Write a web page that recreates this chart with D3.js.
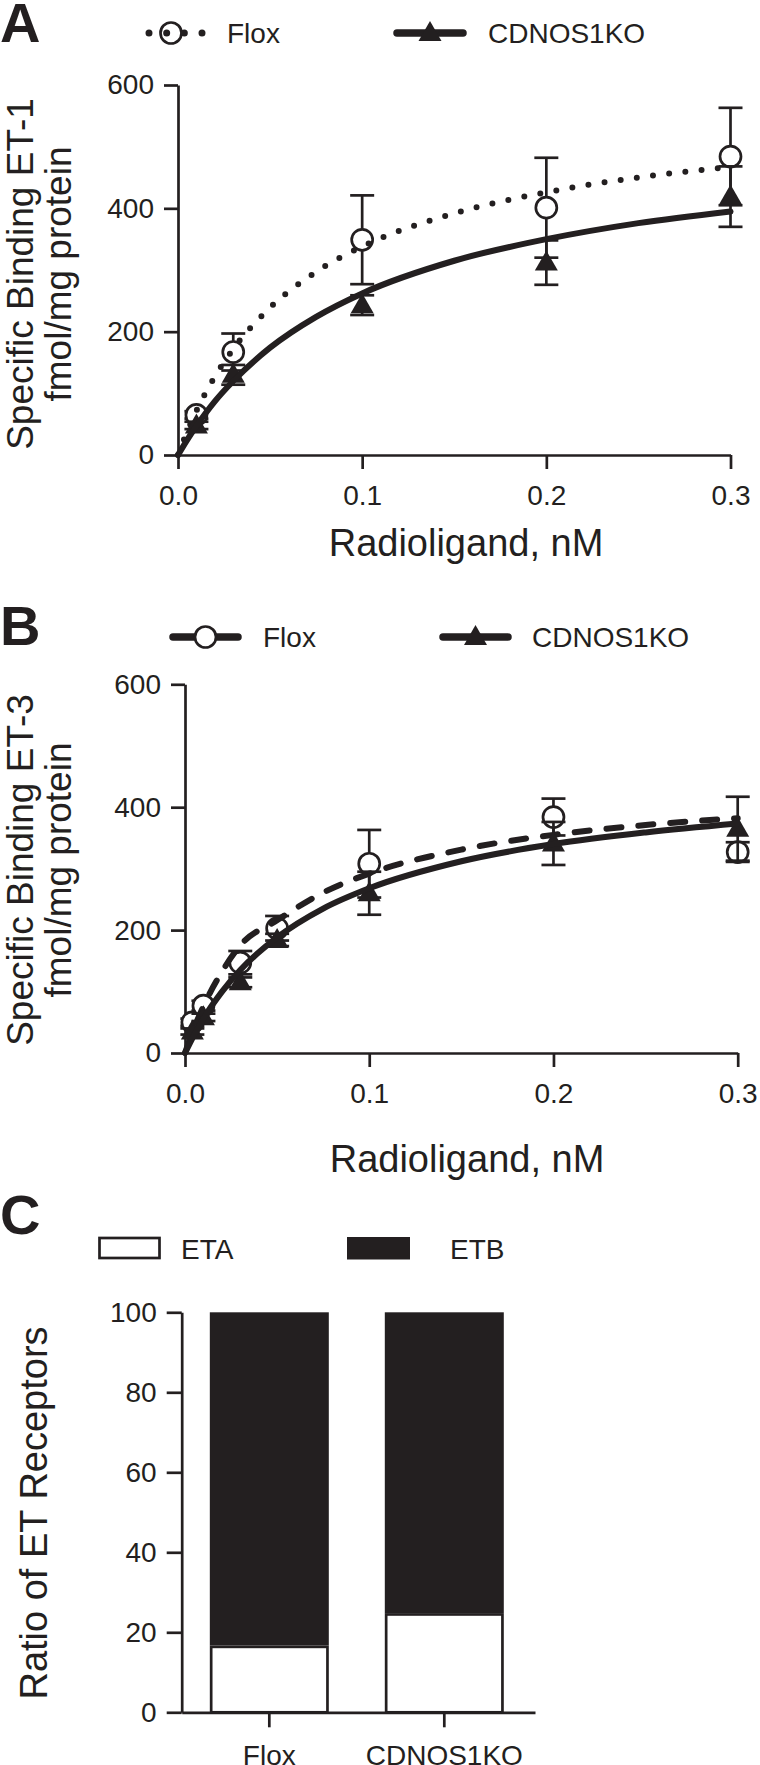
<!DOCTYPE html>
<html><head><meta charset="utf-8">
<script src="https://cdn.jsdelivr.net/npm/d3@7"></script>
<style>
body{margin:0;background:#fff}
svg text{font-family:"Liberation Sans",Arial,Helvetica,sans-serif;fill:#231f20}
</style>
</head><body>
<svg id="chart" width="760" height="1765"></svg>
<script>
// ---------- DATA ----------
const xTicks = [0, 0.1, 0.2, 0.3];
const yTicksBinding = [0, 200, 400, 600];
const seriesNames = ["Flox", "CDNOS1KO"];

// Panel A (ET-1)
const concA = [0.01, 0.03, 0.1, 0.2, 0.3];
const floxA = [65, 167, 349, 401, 484];
const floxA_sem = [6, 30, 72, 81, 79];
const koA = [48, 130, 243, 312, 419];
const koA_sem = [6, 16, 16, 36, 49];

// Panel B (ET-3)
const concB = [0.004, 0.01, 0.03, 0.05, 0.1, 0.2, 0.3];
const floxB = [50, 77, 147, 203, 308, 384, 327];
const floxB_sem = [6, 8, 19, 20, 55, 30, 16];
const koB = [35, 58, 115, 184, 260, 341, 365];
const koB_sem = [5, 6, 8, 10, 35, 35, 52];

// Fitted curves
const fitX = [0, 0.005, 0.01, 0.02, 0.03, 0.05, 0.075, 0.1, 0.15, 0.2, 0.25, 0.3];
const floxA_fit = [0, 38, 71.5, 127, 172, 239, 297, 338, 392, 426, 450, 467];
const koA_fit = [0, 24.7, 47, 87, 120, 174, 224, 262, 315, 350, 376, 395];
const floxB_fit = [0, 41, 76, 132, 175, 216, 261, 292, 331, 355, 371, 382];
const koB_fit = [0, 29.6, 56, 99.5, 135, 188, 235, 268, 312, 340, 359, 373.6];

// Panel C
const groups = ["Flox", "CDNOS1KO"];
const etaPct = [16.7, 24.8];
const etbPct = [83.3, 75.2];
const yTicksC = [0, 20, 40, 60, 80, 100];

// ---------- DRAWING ----------
const INK = "#231f20";
const FONT = '"Liberation Sans", Arial, Helvetica, sans-serif';
const svg = d3.select("#chart");

function styleAxis(g) {
  g.attr("font-size", 28).attr("font-family", FONT);
  g.select(".domain").attr("stroke", INK).attr("stroke-width", 2.7);
  g.selectAll(".tick line").attr("stroke", INK).attr("stroke-width", 2.7);
  g.selectAll(".tick text").attr("fill", INK);
}

const triPath = s => `M0,${-12*s} L${11.5*s},${8*s} L${-11.5*s},${8*s} Z`;

function drawMarker(g, type, cx, cy, s) {
  if (type === "circle") {
    g.append("circle").attr("cx", cx).attr("cy", cy).attr("r", 10.5 * s)
      .attr("fill", "#fff").attr("stroke", INK).attr("stroke-width", 2.7);
  } else {
    g.append("path").attr("d", triPath(s)).attr("transform", `translate(${cx},${cy})`)
      .attr("fill", INK);
  }
}

function bindingPanel(o) {
  const x = d3.scaleLinear().domain([0, 0.3]).range([o.left, o.right]);
  const y = d3.scaleLinear().domain([0, 600]).range([o.bottom, o.top]);
  const g = svg.append("g");

  g.append("g").attr("transform", `translate(0,${o.bottom})`)
    .call(d3.axisBottom(x).tickValues(xTicks).tickFormat(d3.format(".1f"))
      .tickSize(14).tickSizeOuter(0).tickPadding(16))
    .call(styleAxis);
  g.append("g").attr("transform", `translate(${o.left},0)`)
    .call(d3.axisLeft(y).tickValues(yTicksBinding).tickSize(14).tickSizeOuter(0).tickPadding(10))
    .call(styleAxis);

  const line = d3.line().x(d => x(d[0])).y(d => y(d[1])).curve(d3.curveMonotoneX);

  o.series.forEach(s => {
    const sg = g.append("g");
    s.conc.forEach((c, i) => {
      const cx = x(c), m = s.mean[i], e = s.sem[i];
      sg.append("line").attr("x1", cx).attr("x2", cx).attr("y1", y(m - e)).attr("y2", y(m + e))
        .attr("stroke", INK).attr("stroke-width", 2.7);
      [m - e, m + e].forEach(v => sg.append("line").attr("x1", cx - 12).attr("x2", cx + 12)
        .attr("y1", y(v)).attr("y2", y(v)).attr("stroke", INK).attr("stroke-width", 2.7));
    });
    s.conc.forEach((c, i) => drawMarker(sg, s.marker, x(c), y(s.mean[i]), 1));
    sg.append("path").datum(fitX.map((v, i) => [v, s.fit[i]]))
      .attr("d", line).attr("fill", "none").attr("stroke", INK)
      .attr("stroke-width", s.width).attr("stroke-linecap", "round")
      .attr("stroke-dasharray", s.dash || null);
  });

  // axis title
  g.append("text").attr("x", o.titleX).attr("y", o.titleY).attr("text-anchor", "middle")
    .attr("font-size", 38).text("Radioligand, nM");
  // y title
  const yt = g.append("text").attr("transform", `translate(0,${o.yTitleCY}) rotate(-90)`)
    .attr("text-anchor", "middle").attr("font-size", 37);
  yt.append("tspan").attr("x", 0).attr("y", 33).text(o.yTitle);
  yt.append("tspan").attr("x", 0).attr("y", 71).text("fmol/mg protein");
  // panel letter
  g.append("text").attr("x", 0).attr("y", o.letterY).attr("font-size", 56)
    .attr("font-weight", "bold").text(o.letter);
}

// Panel A
bindingPanel({
  left: 178, right: 730.5, top: 85, bottom: 455,
  titleX: 466, titleY: 556, yTitleCY: 274, yTitle: "Specific Binding ET-1",
  letter: "A", letterY: 42,
  series: [
    { conc: concA, mean: floxA, sem: floxA_sem, fit: floxA_fit, marker: "circle", width: 6, dash: "0,16.3" },
    { conc: concA, mean: koA, sem: koA_sem, fit: koA_fit, marker: "triangle", width: 6 }
  ]
});
// Panel B
bindingPanel({
  left: 185, right: 737.7, top: 684.3, bottom: 1053,
  titleX: 467, titleY: 1172, yTitleCY: 870, yTitle: "Specific Binding ET-3",
  letter: "B", letterY: 645,
  series: [
    { conc: concB, mean: floxB, sem: floxB_sem, fit: floxB_fit, marker: "circle", width: 6, dash: "15,17" },
    { conc: concB, mean: koB, sem: koB_sem, fit: koB_fit, marker: "triangle", width: 6 }
  ]
});

// Legends A & B
function legendItem(cx0, cx1, cy, type, style, textX, textY, label) {
  const g = svg.append("g");
  const mid = (cx0 + cx1) / 2;
  if (style === "dots") {
    drawMarker(g, type, mid - 4.5, cy, 1);
    g.append("line").attr("x1", cx0).attr("x2", cx1).attr("y1", cy).attr("y2", cy)
      .attr("stroke", INK).attr("stroke-width", 7).attr("stroke-linecap", "round")
      .attr("stroke-dasharray", `0,${(cx1 - cx0) / 3}`);
  } else {
    g.append("line").attr("x1", cx0).attr("x2", cx1).attr("y1", cy).attr("y2", cy)
      .attr("stroke", INK).attr("stroke-width", 7.5).attr("stroke-linecap", "round");
    drawMarker(g, type, mid, cy, 1);
  }
  g.append("text").attr("x", textX).attr("y", textY).attr("font-size", 28).text(label);
}
legendItem(149, 202, 33, "circle", "dots", 227, 43, seriesNames[0]);
legendItem(397, 463, 33, "triangle", "solid", 488, 43, seriesNames[1]);
legendItem(173, 238, 637, "circle", "solid", 263, 647, seriesNames[0]);
legendItem(443, 508, 637, "triangle", "solid", 532, 647, seriesNames[1]);

// Panel C
(function () {
  const x = d3.scaleBand().domain(groups).range([181.7, 535])
    .paddingInner(0.32).paddingOuter(0.1695).align(0.474);
  const y = d3.scaleLinear().domain([0, 100]).range([1712.3, 1312.3]);
  const g = svg.append("g");
  groups.forEach((grp, i) => {
    const bx = x(grp), bw = x.bandwidth();
    g.append("rect").attr("x", bx).attr("width", bw)
      .attr("y", y(etaPct[i] + etbPct[i])).attr("height", y(etaPct[i]) - y(etaPct[i] + etbPct[i]))
      .attr("fill", INK);
    g.append("rect").attr("x", bx + 1.35).attr("width", bw - 2.7)
      .attr("y", y(etaPct[i]) + 1.35).attr("height", y(0) - y(etaPct[i]) - 1.35)
      .attr("fill", "#fff").attr("stroke", INK).attr("stroke-width", 2.7);
  });
  g.append("g").attr("transform", `translate(0,${y(0)})`)
    .call(d3.axisBottom(x).tickSize(15).tickSizeOuter(0).tickPadding(18))
    .call(styleAxis);
  g.append("g").attr("transform", `translate(181.7,0)`)
    .call(d3.axisLeft(y).tickValues(yTicksC).tickSize(15).tickSizeOuter(0).tickPadding(10))
    .call(styleAxis);
  g.append("text").attr("transform", `translate(47,1513) rotate(-90)`)
    .attr("text-anchor", "middle").attr("font-size", 38).text("Ratio of ET Receptors");
  g.append("text").attr("x", 0).attr("y", 1234).attr("font-size", 56)
    .attr("font-weight", "bold").text("C");
  // legend
  g.append("rect").attr("x", 99.5).attr("y", 1238).attr("width", 60).attr("height", 20)
    .attr("fill", "#fff").attr("stroke", INK).attr("stroke-width", 2.7);
  g.append("text").attr("x", 181).attr("y", 1259).attr("font-size", 28).text("ETA");
  g.append("rect").attr("x", 347).attr("y", 1237).attr("width", 63).attr("height", 22.5)
    .attr("fill", INK);
  g.append("text").attr("x", 450).attr("y", 1259).attr("font-size", 28).text("ETB");
})();
</script>
</body></html>
